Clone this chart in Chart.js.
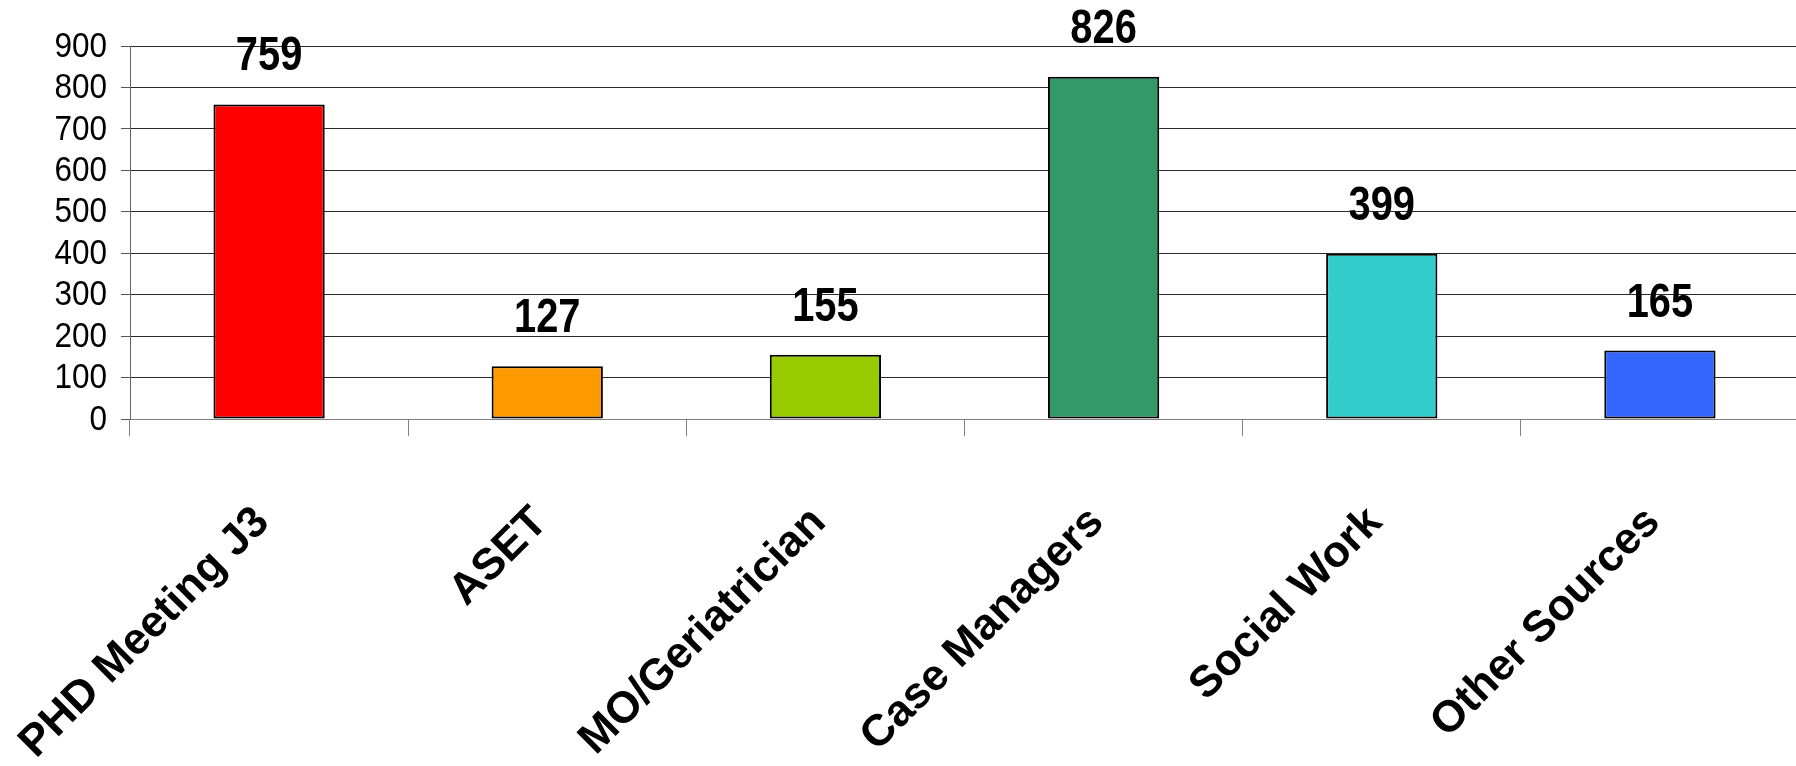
<!DOCTYPE html>
<html>
<head>
<meta charset="utf-8">
<script src="https://cdn.jsdelivr.net/npm/chart.js@4/dist/chart.umd.min.js"></script>
<style>
  html, body { margin: 0; padding: 0; background: #fff; overflow: hidden; }
  #wrap { width: 1800px; height: 766px; position: relative; }
</style>
</head>
<body>
<div id="wrap"><canvas id="c" width="1800" height="766"></canvas></div>
<script>
// ---- data ----
const categories = ['PHD Meeting J3', 'ASET', 'MO/Geriatrician', 'Case Managers', 'Social Work', 'Other Sources'];
const values = [759, 127, 155, 826, 399, 165];
const barColors = ['#FF0000', '#FF9900', '#99CC00', '#339966', '#33CCCC', '#3366FF'];
const yMin = 0;
const yMax = 900;
const yStep = 100;

// ---- styles ----
const sansFamily = '"Liberation Sans", Arial, sans-serif';

// condensed-looking text (reference uses a narrow face)
function drawNarrow(ctx, text, x, y, sx) {
  ctx.save();
  ctx.translate(x, y);
  ctx.scale(sx, 1);
  ctx.fillText(text, 0, 0);
  ctx.restore();
}

const valueLabelPlugin = {
  id: 'valueLabels',
  afterDatasetsDraw(chart) {
    const ctx = chart.ctx;
    const meta = chart.getDatasetMeta(0);
    ctx.save();
    ctx.font = 'bold 48px ' + sansFamily;
    ctx.fillStyle = '#000';
    ctx.textAlign = 'center';
    ctx.textBaseline = 'alphabetic';
    meta.data.forEach((bar, i) => {
      drawNarrow(ctx, String(values[i]), bar.x, bar.y - 34, 0.83);
    });
    ctx.restore();
  }
};

const yLabelPlugin = {
  id: 'yLabels',
  afterDraw(chart) {
    const ctx = chart.ctx;
    const ys = chart.scales.y;
    ctx.save();
    ctx.font = '35px ' + sansFamily;
    ctx.fillStyle = '#000';
    ctx.textAlign = 'right';
    ctx.textBaseline = 'middle';
    ys.ticks.forEach((t) => {
      const py = ys.getPixelForValue(t.value);
      drawNarrow(ctx, String(t.value), ys.right - 9 - 14, py + 1, 0.9);
    });
    ctx.restore();
  }
};

// rotated category labels: right end of the baseline sits just below each category centre
const xLabelPlugin = {
  id: 'xLabels',
  afterDraw(chart) {
    const ctx = chart.ctx;
    const xs = chart.scales.x;
    ctx.save();
    ctx.font = 'bold 44px ' + sansFamily;
    ctx.fillStyle = '#000';
    ctx.textAlign = 'right';
    ctx.textBaseline = 'alphabetic';
    xs.ticks.forEach((t, i) => {
      const px = xs.getPixelForTick(i);
      ctx.save();
      ctx.translate(px + 2, xs.top + 105);
      ctx.rotate(-Math.PI / 4);
      ctx.fillText(categories[i], 0, 0);
      ctx.restore();
    });
    ctx.restore();
  }
};

new Chart(document.getElementById('c'), {
  type: 'bar',
  data: {
    labels: categories,
    datasets: [{
      data: values,
      backgroundColor: barColors,
      borderColor: '#000',
      borderWidth: 2,
      borderSkipped: false,
      barPercentage: 0.4,
      categoryPercentage: 1.0
    }]
  },
  options: {
    responsive: false,
    animation: false,
    devicePixelRatio: 1,
    layout: { padding: { top: 46, right: 1, left: 0, bottom: 0 } },
    plugins: { legend: { display: false }, tooltip: { enabled: false }, title: { display: false } },
    scales: {
      x: {
        grid: { display: true, drawOnChartArea: false, drawTicks: true, tickLength: 17, color: '#808080', lineWidth: 1, offset: true },
        border: { display: true, color: '#808080', width: 1 },
        ticks: { autoSkip: false, display: false },
        afterFit(scale) { scale.height = 347; scale.paddingLeft = 0; scale.paddingRight = 0; }
      },
      y: {
        min: yMin,
        max: yMax,
        grid: {
          color: (c) => (c.tick && c.tick.value === 0 ? '#808080' : '#2a2a2a'),
          lineWidth: 1,
          drawTicks: true,
          tickLength: 9,
          tickColor: '#555'
        },
        border: { display: true, color: '#666', width: 1 },
        ticks: { stepSize: yStep, autoSkip: false, display: false },
        afterFit(scale) { scale.width = 130; scale.paddingTop = 0; scale.paddingBottom = 0; }
      }
    }
  },
  plugins: [valueLabelPlugin, yLabelPlugin, xLabelPlugin]
});
</script>
</body>
</html>
